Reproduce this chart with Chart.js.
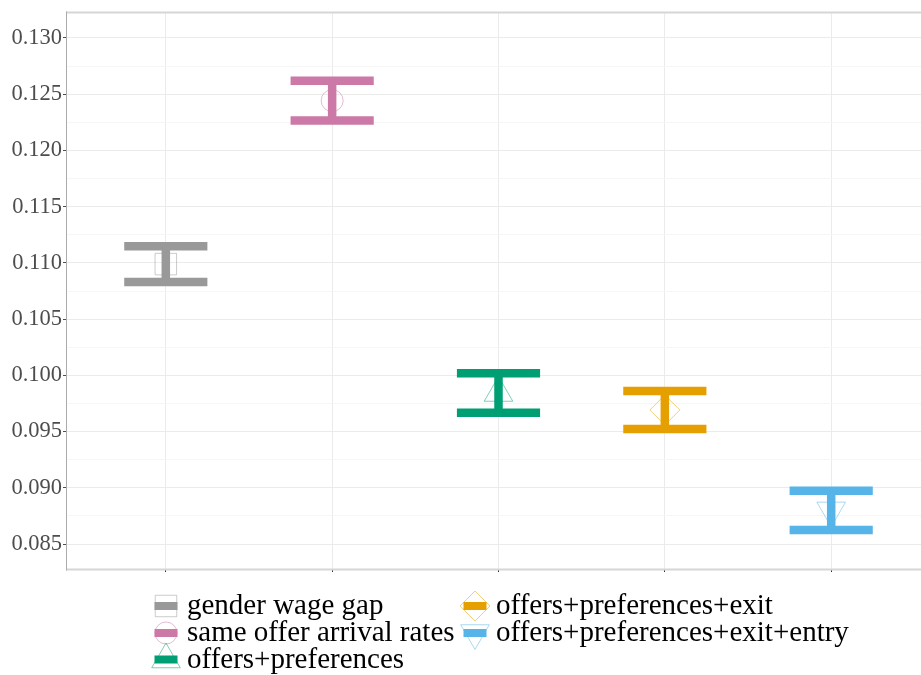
<!DOCTYPE html>
<html>
<head>
<meta charset="utf-8">
<script src="https://cdn.jsdelivr.net/npm/chart.js@4"></script>
<style>
  html, body { margin: 0; padding: 0; background: #ffffff; overflow: hidden; }
  #wrap { width: 931px; height: 675px; }
</style>
</head>
<body>
<div id="wrap"><canvas id="chart" width="931" height="675"></canvas></div>
<script>
// Estimated gender wage gap under each counterfactual, with confidence bounds
const seriesNames = [
  'gender wage gap',
  'same offer arrival rates',
  'offers+preferences',
  'offers+preferences+exit',
  'offers+preferences+exit+entry'
];
const estimates   = [0.10989, 0.12443, 0.09843, 0.09692, 0.08799];
const lowerBounds = [0.10830, 0.12266, 0.09667, 0.09523, 0.08624];
const upperBounds = [0.11147, 0.12619, 0.10018, 0.09861, 0.08974];
const categoryPositions = [1, 2, 3, 4, 5];

const seriesColors = ['#999999', '#CC79A7', '#009E73', '#E69F00', '#56B4E9'];
const seriesFaint  = ['rgba(153,153,153,0.5)', 'rgba(204,121,167,0.5)', 'rgba(0,158,115,0.5)',
                      'rgba(230,159,0,0.5)', 'rgba(86,180,233,0.5)'];
const pointStyles   = ['rect', 'circle', 'triangle', 'rectRot', 'triangle'];
const pointRotation = [0, 0, 0, 0, 180];
const pointRadii    = [15.2, 11, 16.5, 15, 16.5];

const yMajorTicks = [0.085, 0.090, 0.095, 0.100, 0.105, 0.110, 0.115, 0.120, 0.125, 0.130];
const yMinorTicks = [0.0875, 0.0925, 0.0975, 0.1025, 0.1075, 0.1125, 0.1175, 0.1225, 0.1275];

const SERIF = '"Liberation Serif", "DejaVu Serif", serif';

function isMajor(v) {
  return yMajorTicks.some(m => Math.abs(m - v) < 1e-9);
}

// Error bars: thick stem plus caps spanning half a category
const errorBarPlugin = {
  id: 'errorBars',
  afterDatasetsDraw(chart) {
    const ctx = chart.ctx;
    const xs = chart.scales.x, ys = chart.scales.y;
    ctx.save();
    ctx.lineCap = 'butt';
    ctx.lineWidth = 8.5;
    seriesNames.forEach((name, i) => {
      const cx = xs.getPixelForValue(categoryPositions[i]);
      const half = xs.getPixelForValue(categoryPositions[i] + 0.25) - cx;
      const yHi = ys.getPixelForValue(upperBounds[i]);
      const yLo = ys.getPixelForValue(lowerBounds[i]);
      ctx.strokeStyle = seriesColors[i];
      ctx.beginPath();
      ctx.moveTo(cx, yHi); ctx.lineTo(cx, yLo);
      ctx.moveTo(cx - half, yHi); ctx.lineTo(cx + half, yHi);
      ctx.moveTo(cx - half, yLo); ctx.lineTo(cx + half, yLo);
      ctx.stroke();
    });
    ctx.restore();
  }
};

// Panel frame: light top and bottom rules, darker left axis line
const framePlugin = {
  id: 'frame',
  afterDraw(chart) {
    const { ctx, chartArea: a } = chart;
    ctx.save();
    ctx.strokeStyle = '#d6d6d6';
    ctx.lineWidth = 2;
    ctx.beginPath();
    ctx.moveTo(a.left, a.top - 0.5); ctx.lineTo(a.right, a.top - 0.5);
    ctx.moveTo(a.left, a.bottom + 0.5); ctx.lineTo(a.right, a.bottom + 0.5);
    ctx.stroke();
    ctx.strokeStyle = '#ababab';
    ctx.lineWidth = 1;
    ctx.beginPath();
    ctx.moveTo(a.left + 0.5, a.top - 1.5); ctx.lineTo(a.left + 0.5, a.bottom + 1.5);
    ctx.stroke();
    ctx.restore();
  }
};

function drawShape(ctx, i, x, y) {
  ctx.save();
  ctx.strokeStyle = seriesFaint[i];
  ctx.fillStyle = 'rgba(0,0,0,0)';
  ctx.lineWidth = 1;
  Chart.helpers.drawPoint(ctx, {
    pointStyle: pointStyles[i], rotation: pointRotation[i],
    radius: pointRadii[i], borderWidth: 1
  }, x, y);
  ctx.restore();
}

// Two-column legend below the panel, filled column by column
const legendPlugin = {
  id: 'twoColumnLegend',
  afterDraw(chart) {
    const ctx = chart.ctx;
    const colKeyX = [166, 475];
    const colTextX = [187, 496];
    const rowBase = [614, 641, 667.5];
    const rowsPerCol = 3;
    ctx.save();
    ctx.font = '29px ' + SERIF;
    ctx.fillStyle = '#000000';
    ctx.textBaseline = 'alphabetic';
    ctx.textAlign = 'left';
    seriesNames.forEach((name, i) => {
      const col = Math.floor(i / rowsPerCol);
      const row = i % rowsPerCol;
      const kx = colKeyX[col];
      const ky = rowBase[row] - 8;
      drawShape(ctx, i, kx, ky);
      ctx.fillStyle = seriesColors[i];
      ctx.fillRect(kx - 11.5, ky - 4, 23, 8);
      ctx.fillStyle = '#000000';
      ctx.fillText(name, colTextX[col], rowBase[row]);
    });
    ctx.restore();
  }
};

const datasets = seriesNames.map((name, i) => ({
  label: name,
  data: [{ x: categoryPositions[i], y: estimates[i] }],
  pointStyle: pointStyles[i],
  rotation: pointRotation[i],
  pointRadius: pointRadii[i],
  pointBorderWidth: 1,
  pointBorderColor: seriesFaint[i],
  pointBackgroundColor: 'rgba(0,0,0,0)',
  showLine: false
}));

new Chart(document.getElementById('chart'), {
  type: 'scatter',
  data: { datasets },
  plugins: [errorBarPlugin, framePlugin, legendPlugin],
  options: {
    responsive: false,
    animation: false,
    devicePixelRatio: 1,
    layout: { autoPadding: false, padding: { top: 13, left: 0, right: 0, bottom: 0 } },
    plugins: { legend: { display: false }, tooltip: { enabled: false } },
    scales: {
      x: {
        type: 'linear',
        min: 0.4,
        max: 5.6,
        afterBuildTicks(scale) {
          scale.ticks = categoryPositions.map(v => ({ value: v }));
        },
        afterFit(scale) {
          scale.height = 106;
          scale.paddingLeft = 0; scale.paddingRight = 0;
        },
        border: { display: false },
        grid: { color: '#ebebeb', lineWidth: 1, tickLength: 3, tickColor: '#333333' },
        ticks: { callback: () => '', padding: 0 }
      },
      y: {
        type: 'linear',
        min: 0.08278,
        max: 0.13222,
        afterBuildTicks(scale) {
          scale.ticks = yMajorTicks.concat(yMinorTicks).sort((a, b) => a - b).map(v => ({ value: v }));
        },
        afterFit(scale) {
          scale.width = 66;
          scale.paddingTop = 0; scale.paddingBottom = 0;
        },
        border: { display: false },
        grid: {
          lineWidth: 1,
          tickLength: 3,
          color: ctx => (ctx.tick && isMajor(ctx.tick.value)) ? '#ebebeb' : '#f6f6f6',
          tickColor: ctx => (ctx.tick && isMajor(ctx.tick.value)) ? '#4d4d4d' : 'rgba(0,0,0,0)'
        },
        ticks: {
          padding: 1,
          color: '#4d4d4d',
          font: { family: SERIF, size: 22.5 },
          callback: v => isMajor(v) ? v.toFixed(3) : ''
        }
      }
    }
  }
});
</script>
</body>
</html>
